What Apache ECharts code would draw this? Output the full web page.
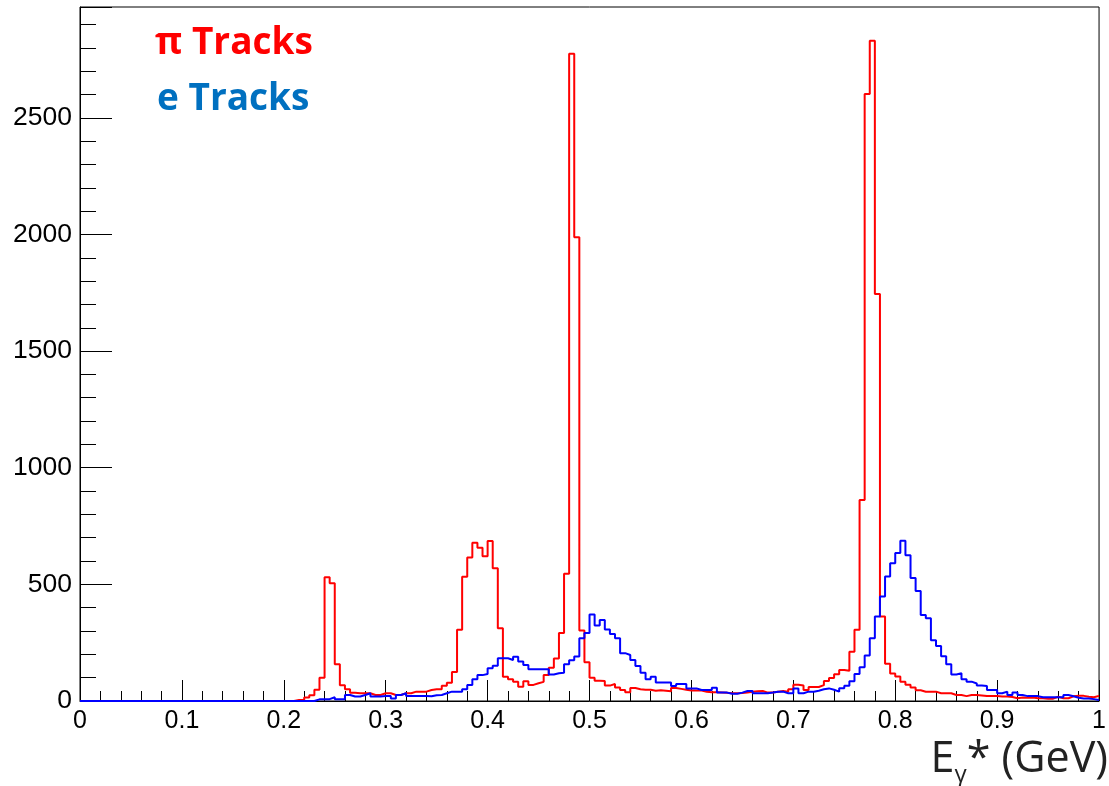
<!DOCTYPE html>
<html>
<head>
<meta charset="utf-8">
<script src="https://cdn.jsdelivr.net/npm/echarts@6/dist/echarts.min.js"></script>
<style>
    html, body { margin: 0; background: #fff; }
    #main { width: 1109px; height: 786px; }
</style>
</head>
<body>
<div id="main"></div>
<script>
// histogram: 200 bins of 0.005 GeV from 0 to 1
var binWidth = 0.005;

// π tracks, counts per bin
var piCounts = [
    0, 0, 0, 0, 0, 0, 0, 0, 0, 0,
    0, 0, 0, 0, 0, 0, 0, 0, 0, 0,
    0, 0, 0, 0, 0, 0, 0, 0, 0, 0,
    0, 0, 0, 0, 0, 0, 0, 0, 0, 0,
    0, 0, 4, 4, 15, 25, 48, 100, 530, 505,
    158, 68, 50, 35, 33, 33, 33, 26, 26, 33,
    33, 26, 26, 33, 33, 40, 40, 40, 47, 50,
    50, 65, 78, 124, 305, 533, 615, 678, 657, 620,
    686, 569, 312, 104, 93, 83, 61, 85, 69, 76,
    82, 111, 142, 182, 292, 545, 2775, 1988, 302, 166,
    100, 87, 86, 66, 73, 58, 47, 38, 56, 50,
    48, 48, 44, 46, 44, 42, 56, 52, 48, 45,
    45, 45, 40, 38, 37, 36, 35, 33, 33, 34,
    36, 40, 42, 43, 36, 36, 40, 43, 40, 50,
    70, 66, 47, 60, 60, 68, 86, 99, 115, 133,
    130, 211, 305, 862, 2602, 2830, 1745, 362, 160, 118,
    105, 83, 70, 58, 46, 40, 40, 40, 33, 33,
    33, 26, 26, 21, 26, 26, 24, 21, 21, 21,
    19, 19, 17, 12, 15, 14, 15, 12, 12, 10,
    10, 18, 12, 12, 20, 22, 22, 18, 16, 22
];

// e tracks, counts per bin
var eCounts = [
    0, 0, 0, 0, 0, 0, 0, 0, 0, 0,
    0, 0, 0, 0, 0, 0, 0, 0, 0, 0,
    0, 0, 0, 0, 0, 0, 0, 0, 0, 0,
    0, 0, 0, 0, 0, 0, 0, 0, 0, 0,
    0, 0, 0, 0, 0, 0, 7, 7, 8, 16,
    7, 7, 26, 19, 19, 26, 33, 19, 19, 21,
    21, 11, 26, 33, 21, 21, 21, 21, 20, 25,
    26, 33, 40, 40, 40, 50, 69, 93, 111, 116,
    140, 151, 183, 183, 176, 190, 169, 154, 136, 136,
    136, 136, 114, 119, 121, 158, 175, 191, 269, 291,
    371, 324, 347, 307, 287, 269, 205, 197, 176, 150,
    121, 93, 104, 79, 79, 79, 64, 73, 73, 54,
    54, 47, 47, 47, 57, 36, 36, 31, 31, 36,
    43, 43, 33, 33, 33, 36, 40, 40, 33, 33,
    54, 33, 40, 40, 44, 50, 54, 48, 40, 55,
    65, 85, 116, 145, 195, 269, 362, 448, 534, 591,
    634, 687, 625, 527, 472, 369, 355, 260, 236, 192,
    158, 114, 119, 93, 83, 75, 66, 64, 47, 47,
    33, 40, 26, 36, 26, 21, 21, 21, 16, 16,
    16, 16, 16, 26, 20, 14, 11, 11, 8, 4
];

// [lower edge, count] pairs, plus the closing edge at 1
function toSteps(counts) {
    var pts = [];
    for (var i = 0; i < counts.length; i++) {
        pts.push([+(i * binWidth).toFixed(3), counts[i]]);
    }
    pts.push([+(counts.length * binWidth).toFixed(3), counts[counts.length - 1]]);
    return pts;
}

var chart = echarts.init(document.getElementById('main'));

var option = {
    animation: false,
    grid: {
        left: 80,
        right: 6,
        top: 7,
        bottom: 85,
        show: true,
        borderColor: '#000',
        borderWidth: 1
    },
    xAxis: {
        type: 'value',
        min: 0,
        max: 1,
        interval: 0.1,
        axisLine: {show: true, lineStyle: {color: '#000', width: 1}},
        axisTick: {inside: true, length: 21, lineStyle: {color: '#000'}},
        minorTick: {show: true, splitNumber: 5, length: 10, lineStyle: {color: '#000'}},
        splitLine: {show: false},
        axisLabel: {
            margin: 8,
            color: '#000',
            fontSize: 25,
            fontFamily: 'Liberation Sans',
            formatter: function (v) { return String(+v.toFixed(1)); }
        }
    },
    yAxis: {
        type: 'value',
        min: 0,
        max: 2975,
        interval: 500,
        axisLine: {show: true, lineStyle: {color: '#000', width: 1}},
        axisTick: {show: true, inside: true, length: 32, lineStyle: {color: '#000'}},
        minorTick: {show: true, splitNumber: 5, length: 16, lineStyle: {color: '#000'}},
        splitLine: {show: false},
        axisLabel: {
            margin: 8,
            color: '#000',
            fontSize: 26.5,
            fontFamily: 'Liberation Sans',
            showMaxLabel: false,
            formatter: function (v) { return String(v); }
        }
    },
    graphic: [
        {
            type: 'text',
            left: 155,
            top: 25,
            style: {
                text: 'π Tracks',
                fill: '#ff0000',
                font: 'bold 37px "Open Sans"'
            }
        },
        {
            type: 'text',
            left: 157,
            top: 81,
            style: {
                text: 'e Tracks',
                fill: '#0070c0',
                font: 'bold 37px "Open Sans"'
            }
        },
        {
            type: 'text',
            right: 1,
            top: 738,
            style: {
                text: '{a|E}{b|γ}{a|* (GeV)}',
                rich: {
                    a: {fontSize: 43, fontFamily: 'Open Sans', fill: '#222', lineHeight: 56},
                    b: {fontSize: 24, fontFamily: 'Open Sans', fill: '#222', lineHeight: 16, verticalAlign: 'bottom'}
                }
            }
        }
    ],
    series: [
        {
            name: 'π Tracks',
            type: 'line',
            step: 'end',
            data: toSteps(piCounts),
            showSymbol: false,
            symbol: 'none',
            clip: false,
            lineStyle: {color: '#ff0000', width: 2}
        },
        {
            name: 'e Tracks',
            type: 'line',
            step: 'end',
            data: toSteps(eCounts),
            showSymbol: false,
            symbol: 'none',
            clip: false,
            lineStyle: {color: '#0000ff', width: 2}
        }
    ]
};

chart.setOption(option);
</script>
</body>
</html>
